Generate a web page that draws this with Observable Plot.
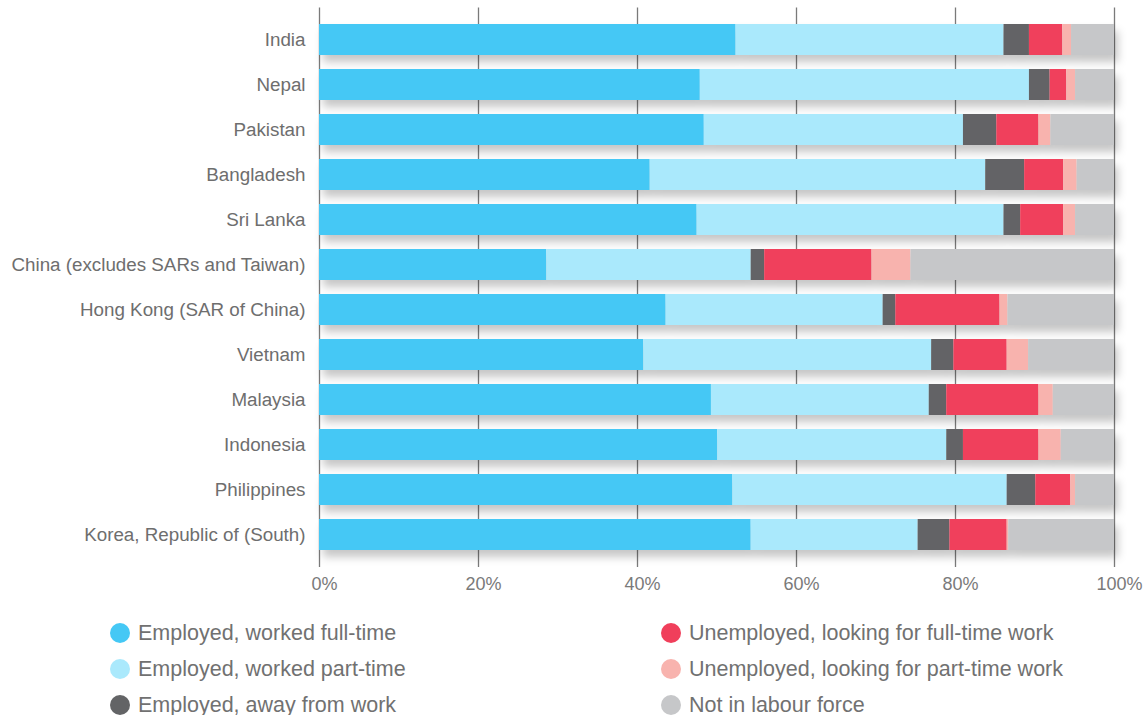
<!DOCTYPE html>
<html>
<head>
<meta charset="utf-8">
<script src="https://cdn.jsdelivr.net/npm/d3@7"></script>
<script src="https://cdn.jsdelivr.net/npm/@observablehq/plot@0.6"></script>
<style>
  html, body { margin: 0; padding: 0; background: #fff; overflow: hidden; }
  body { width: 1147px; height: 715px; font-family: "Liberation Sans", Arial, sans-serif; }
  #legend { display: grid; grid-template-columns: 551px 480px; margin-left: 110px; margin-top: 15px; }
  .item { display: flex; align-items: center; height: 36px; font-size: 21.5px; color: #717171; }
  .dot { width: 20px; height: 20px; border-radius: 50%; margin-right: 8px; flex: none; }
</style>
</head>
<body>
<div id="chart"></div>
<div id="legend"></div>
<script>
const countries = ["India", "Nepal", "Pakistan", "Bangladesh", "Sri Lanka",
  "China (excludes SARs and Taiwan)", "Hong Kong (SAR of China)", "Vietnam",
  "Malaysia", "Indonesia", "Philippines", "Korea, Republic of (South)"];

const categories = ["Employed, worked full-time", "Employed, worked part-time",
  "Employed, away from work", "Unemployed, looking for full-time work",
  "Unemployed, looking for part-time work", "Not in labour force"];

const colors = ["#45c8f5", "#aae9fc", "#636466", "#f03f5b", "#f8b3ae", "#c6c7c9"];

// percentages per country, in category order
const fullTime   = [52.4, 47.9, 48.4, 41.6, 47.5, 28.6, 43.6, 40.8, 49.3, 50.1, 52.0, 54.3];
const partTime   = [33.7, 41.4, 32.6, 42.2, 38.6, 25.7, 27.3, 36.2, 27.4, 28.8, 34.5, 21.0];
const away       = [ 3.2,  2.6,  4.2,  4.9,  2.1,  1.7,  1.6,  2.8,  2.2,  2.1,  3.6,  4.0];
const unempFull  = [ 4.2,  2.1,  5.3,  4.9,  5.4, 13.5, 13.1,  6.7, 11.6,  9.5,  4.4,  7.2];
const unempPart  = [ 1.1,  1.1,  1.5,  1.7,  1.5,  4.9,  1.0,  2.7,  1.8,  2.8,  0.6,  0.2];
const notInForce = [ 5.4,  4.9,  8.0,  4.7,  4.9, 25.6, 13.4, 10.8,  7.7,  6.7,  4.9, 13.3];

const xTicks = [0, 20, 40, 60, 80, 100];
const xTickLabels = ["0%", "20%", "40%", "60%", "80%", "100%"];

const series = [fullTime, partTime, away, unempFull, unempPart, notInForce];
const data = [];
countries.forEach((c, i) => {
  categories.forEach((cat, j) => data.push({country: c, cat, value: series[j][i]}));
});

const chart = Plot.plot({
  width: 1147,
  height: 600,
  marginLeft: 319,
  marginRight: 33,
  marginTop: 7.5,
  marginBottom: 33,
  style: {fontFamily: "'Liberation Sans', Arial, sans-serif", background: "#fff"},
  x: {domain: [0, 100], axis: null},
  y: {domain: countries, padding: 0.32, axis: null},
  color: {domain: categories, range: colors},
  marks: [
    Plot.ruleX(xTicks, {stroke: "#7a7a7a", strokeWidth: 1.3}),
    Plot.barX(data, Plot.stackX({x: "value", y: "country", fill: "cat", order: categories})),
    Plot.axisY({tickSize: 0, tickPadding: 14, fontSize: 18.8, fill: "#6e6e6e", label: null}),
    Plot.axisX(xTicks, {tickSize: 0, tickPadding: 10, fontSize: 18, fill: "#7a7a7a", label: null,
      tickFormat: (d) => xTickLabels[xTicks.indexOf(d)], dx: 5})
  ]
});

// soft drop shadow for the bars
const svg = d3.select(chart);
svg.append("defs").html(
  '<filter id="shadow" x="-5%" y="-30%" width="115%" height="200%">' +
  '<feDropShadow dx="4" dy="7" stdDeviation="4" flood-color="#000" flood-opacity="0.22"/></filter>');
svg.selectAll('g[aria-label="bar"]').attr("filter", "url(#shadow)");

document.getElementById("chart").appendChild(chart);

const legend = d3.select("#legend");
const legendOrder = [0, 3, 1, 4, 2, 5];
legendOrder.forEach(j => {
  const item = legend.append("div").attr("class", "item");
  item.append("span").attr("class", "dot").style("background", colors[j]);
  item.append("span").text(categories[j]);
});
</script>
</body>
</html>
